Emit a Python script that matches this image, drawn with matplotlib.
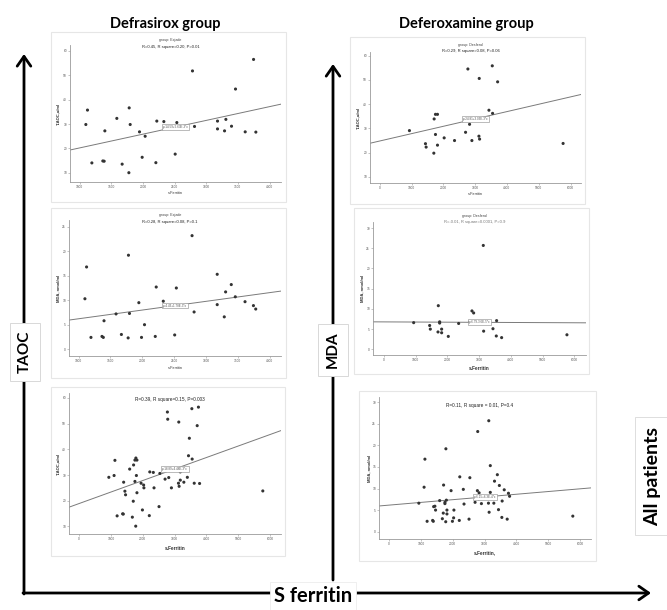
import matplotlib
matplotlib.use("Agg")
import matplotlib.pyplot as plt
from matplotlib.patches import Rectangle
import numpy as np

W, H = 667, 610

# ---------------- data ----------------
exjade_ferritin = [1126, 1100, 1195, 1400, 1368, 1389, 1589, 1673, 1784, 1800, 1779, 1947, 1989, 2036, 2205,
                   2220, 2331, 2536, 2510, 2783, 2815, 3178, 3178, 3289, 3310, 3399, 3462, 3615, 3747, 3783]
exjade_taoc = [35.7, 29.8, 14.1, 27.2, 14.9, 14.8, 32.3, 13.6, 36.6, 29.8, 10.1, 26.8, 16.4, 25.0, 14.2,
               31.2, 31.0, 30.6, 17.7, 51.7, 29.0, 31.2, 28.0, 27.2, 31.9, 29.1, 44.3, 26.8, 56.4, 26.7]
exjade_mda = [16.8, 10.3, 2.4, 5.8, 2.6, 2.4, 7.2, 3.0, 19.2, 7.3, 2.3, 9.5, 2.4, 5.0, 2.6,
              12.7, 9.8, 12.5, 2.9, 23.2, 7.6, 15.3, 9.1, 6.6, 11.7, 13.2, 10.7, 9.7, 8.9, 8.2]

desferal_ferritin = [935, 1439, 1460, 1712, 1754, 1817, 1702, 1754, 1817, 2027, 2353, 2700, 2773, 2826, 2899,
                     3130, 3120, 3141, 3435, 3540, 3550, 3708, 5767]
desferal_taoc = [29.1, 23.7, 22.3, 33.9, 35.8, 35.8, 19.8, 27.5, 23.1, 26.1, 25.0, 28.4, 54.5, 31.7, 25.0,
                 50.6, 26.8, 25.6, 37.5, 55.8, 36.2, 49.2, 23.8]
desferal_mda = [6.6, 5.9, 5.0, 10.8, 6.5, 5.0, 4.3, 6.8, 4.1, 3.2, 6.4, 6.8, 9.5, 9.0, 6.5,
                25.7, 6.6, 4.5, 5.1, 3.3, 7.1, 2.9, 3.6]

all_ferritin = exjade_ferritin + desferal_ferritin
all_taoc = exjade_taoc + desferal_taoc
all_mda = exjade_mda + desferal_mda

# regression fits (intercept, slope) as printed on the panels
fit_intercepts = [14.59, 24.81, 4.43, 6.79, 18.89, 6.15]
fit_slopes = [5.63e-3, 3.03e-3, 1.78e-3, -3.6e-5, 4.48e-3, 6.3e-4]
fit_labels = ["y=14.59+5.63E-3*x", "y=24.81+3.03E-3*x", "y=4.43+1.78E-3*x",
              "y=6.79-3.6E-5*x", "y=18.89+4.48E-3*x", "y=6.15+6.3E-4*x"]
group_titles = ["group: Exjade", "group: Desferal", "group: Exjade", "group: Desferal", "", ""]
stat_lines = ["R=0.45, R square=0.20, P=0.01", "R=0.29, R square=0.08, P=0.06",
              "R=0.28, R square=0.08, P=0.1", "R=-0.01, R square=0.0001, P=0.9",
              "R=0.39, R square=0.15, P=0.003", "R=0.11, R square = 0.01, P=0.4"]
y_labels = ["T-AOC,u/ml", "T-AOC,u/ml", "MDA, nmol/ml", "MDA, nmol/ml", "T-AOC,u/ml", "MDA, nmol/ml"]
x_labels = ["s.Ferritin", "s.Ferritin", "s.Ferritin", "s.Ferritin", "s.Ferritin", "s.Ferritin,"]
x_ticks_group = [1000, 1500, 2000, 2500, 3000, 3500, 4000]
x_ticks_all = [0, 1000, 2000, 3000, 4000, 5000, 6000]
y_ticks_taoc = [10, 20, 30, 40, 50, 60]
y_ticks_mda3 = [0, 5, 10, 15, 20, 25]
y_ticks_mda = [0, 5, 10, 15, 20, 25, 30]

panels_x = [exjade_ferritin, desferal_ferritin, exjade_ferritin, desferal_ferritin, all_ferritin, all_ferritin]
panels_y = [exjade_taoc, desferal_taoc, exjade_mda, desferal_mda, all_taoc, all_mda]
panels_xticks = [x_ticks_group, x_ticks_all, x_ticks_group, x_ticks_all, x_ticks_all, x_ticks_all]
panels_yticks = [y_ticks_taoc, y_ticks_taoc, y_ticks_mda3, y_ticks_mda, y_ticks_taoc, y_ticks_mda]

# ---------------- layout (pixels) ----------------
boxes = [(51, 32, 286, 202), (350, 37, 585, 204), (51, 208, 286, 378),
         (354, 208, 589, 374), (51, 387, 285, 556), (359, 391, 596, 561)]
axes_px = [(70, 45, 281, 182), (370, 52, 581, 183), (69, 220, 281, 356),
           (373, 222, 586, 355), (69, 393, 281, 534), (379, 397, 591, 539)]
xlims = [(850, 4180), (-305, 6330), (850, 4180), (-347, 6368), (-315, 6338), (-315, 6338)]
ylims = [(6.3, 62.3), (7.5, 61.5), (-1.4, 26.4), (-1.4, 31.5), (7.05, 61.9), (-1.7, 31.2)]
title_y = [(40, 47), (45, 51), (215, 222), (216, 222), (None, 400), (None, 406)]
xlabel_y = [193, 194, 368, 369, 548, 553]
ylabel_x = [58, 358, 58, 362, 58, 369]

fig = plt.figure(figsize=(W / 100, H / 100), dpi=100)
fig.patch.set_facecolor("white")

bg = fig.add_axes([0, 0, 1, 1])
bg.set_xlim(0, W)
bg.set_ylim(H, 0)
bg.axis("off")

for (l, t, r, b) in boxes:
    bg.add_patch(Rectangle((l, t), r - l, b - t, facecolor="white", edgecolor="#e6e6e6", lw=0.8))

# big arrows
arrow_kw = dict(arrowstyle="->,head_length=0.5,head_width=0.35", lw=2.0, color="black",
                shrinkA=0, shrinkB=0, mutation_scale=14)
bg.annotate("", xy=(24, 54), xytext=(24, 594), arrowprops=arrow_kw)
bg.annotate("", xy=(651, 593), xytext=(23, 593), arrowprops=arrow_kw)
bg.annotate("", xy=(333, 64), xytext=(333, 580), arrowprops=arrow_kw)

title_font = ["Lato", "DejaVu Sans"]
bg.text(165, 24, "Defrasirox group", ha="center", va="center", fontsize=10.5, fontweight="bold",
        family=title_font)
bg.text(466, 24, "Deferoxamine group", ha="center", va="center", fontsize=10.5, fontweight="bold",
        family=title_font)
box_kw = dict(facecolor="white", edgecolor="#d8d8d8", lw=0.7, boxstyle="square,pad=0.5")
bg.text(25, 352, "TAOC", rotation=90, ha="center", va="center", fontsize=11, fontweight="bold",
        family=title_font, bbox=box_kw)
bg.text(333, 350, "MDA", rotation=90, ha="center", va="center", fontsize=11, fontweight="bold",
        family=title_font, bbox=box_kw)
bg.text(313, 596, "S ferritin", ha="center", va="center", fontsize=14.5, fontweight="bold",
        family=title_font, bbox=dict(facecolor="white", edgecolor="#ececec", lw=0.6,
                                     boxstyle="square,pad=0.2"))
bg.text(653, 476, "All patients", rotation=90, ha="center", va="center", fontsize=14, fontweight="bold",
        family=title_font, bbox=dict(facecolor="white", edgecolor="#d8d8d8", lw=0.6,
                                     boxstyle="square,pad=0.5"))

small = ["Liberation Sans", "DejaVu Sans"]
for i in range(6):
    l, t, r, b = axes_px[i]
    ax = fig.add_axes([l / W, 1 - b / H, (r - l) / W, (b - t) / H])
    ax.set_facecolor("none")
    ax.set_xlim(*xlims[i])
    ax.set_ylim(*ylims[i])
    for s in ["top", "right"]:
        ax.spines[s].set_visible(False)
    for s in ["left", "bottom"]:
        ax.spines[s].set_color("#9a9a9a")
        ax.spines[s].set_linewidth(0.6)
    ax.set_xticks(panels_xticks[i])
    ax.set_yticks(panels_yticks[i])
    ax.tick_params(length=1.2, width=0.4, color="#9a9a9a", pad=1.0, labelsize=2.3, labelcolor="#555555")
    for lab in ax.get_xticklabels() + ax.get_yticklabels():
        lab.set_family(small)
    ax.scatter(panels_x[i], panels_y[i], s=5, color="#333333", edgecolors="none", zorder=3)
    xs = np.array(xlims[i])
    ax.plot(xs, fit_intercepts[i] + fit_slopes[i] * xs, color="#7a7a7a", lw=0.7, zorder=2)
    xm = (xlims[i][0] + xlims[i][1]) / 2
    ax.text(xm, fit_intercepts[i] + fit_slopes[i] * xm, fit_labels[i], ha="center", va="center",
            fontsize=2.2, family=small, color="#555555", zorder=4,
            bbox=dict(facecolor="white", edgecolor="#888888", lw=0.4, boxstyle="square,pad=0.3"))
    cx = (l + r) / 2 - 5
    ty1, ty2 = title_y[i]
    if group_titles[i]:
        bg.text(cx, ty1, group_titles[i], ha="center", va="center", fontsize=2.6, family=small,
                color="#444444")
    bold = i >= 4
    bg.text(cx, ty2, stat_lines[i], ha="center", va="center", fontsize=3.4 if bold else 3.0,
            family=small, color="#222222" if i != 3 else "#777777")
    bg.text((l + r) / 2, xlabel_y[i], x_labels[i], ha="center", va="center",
            fontsize=3.4 if i in (3, 4, 5) else 2.8, family=small,
            fontweight="bold" if i in (3, 4, 5) else "normal", color="#333333")
    bg.text(ylabel_x[i], (t + b) / 2, y_labels[i], rotation=90, ha="center", va="center",
            fontsize=3.0, family=small, fontweight="bold", color="#333333")

fig.savefig("out.png", dpi=100, facecolor="white")
